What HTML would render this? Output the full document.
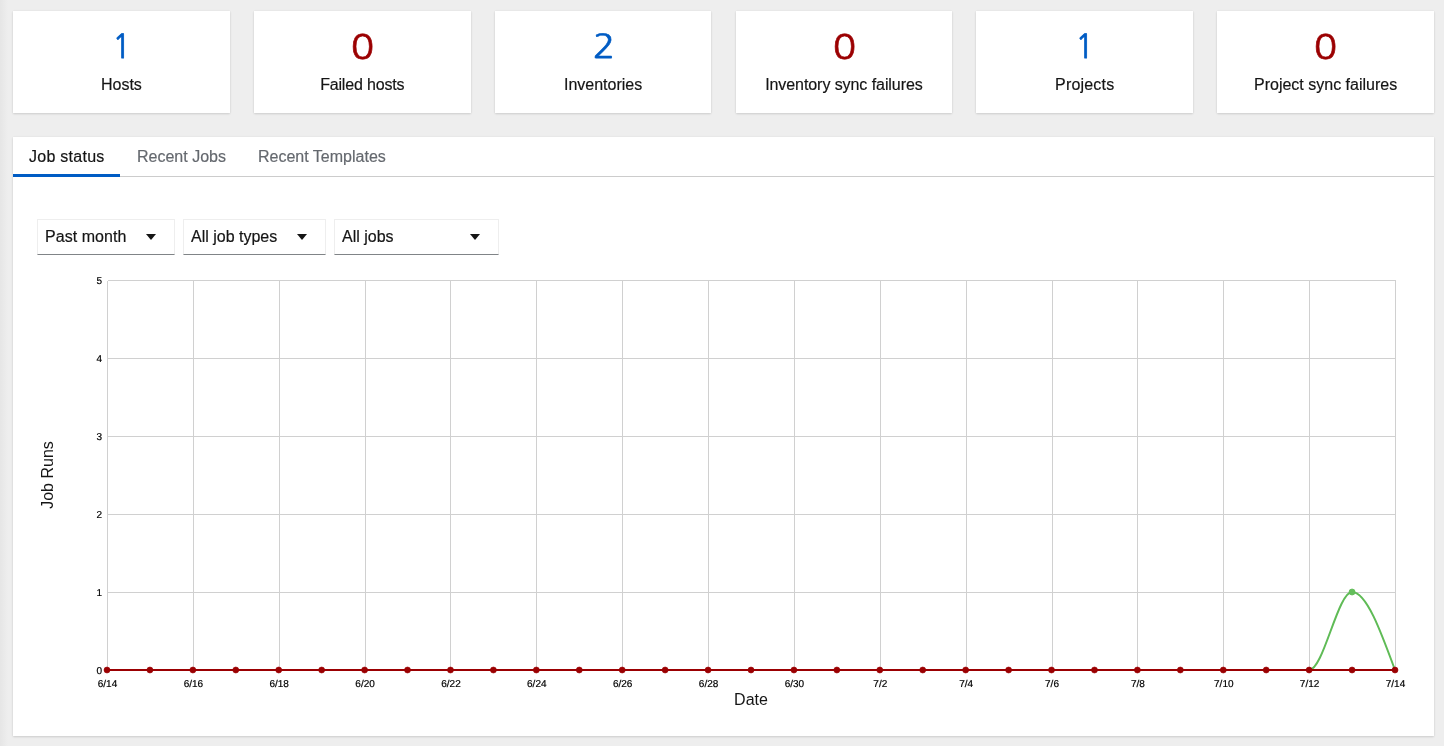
<!DOCTYPE html>
<html lang="en"><head><meta charset="utf-8"><title>Dashboard</title>
<style>
*{box-sizing:border-box;margin:0;padding:0}
html,body{width:1444px;height:746px;overflow:hidden}
body{background:#eeeeee;font-family:"Liberation Sans",sans-serif;color:#151515;position:relative;font-size:16px}
.edge{position:absolute;left:0;top:0;width:8px;height:746px;background:linear-gradient(to right,rgba(0,0,0,.035),rgba(0,0,0,0))}
.card{position:absolute;top:11px;height:102px;background:#fff;box-shadow:0 1px 2px 0 rgba(3,3,3,.12),0 0 2px 0 rgba(3,3,3,.06);text-align:center}
.card svg{position:absolute;left:0;top:0;width:100%;height:102px;overflow:visible}
.count{font-family:NanumGothic,"DejaVu Sans",sans-serif;font-size:33.7px;text-anchor:middle;text-rendering:geometricPrecision}
.b{fill:#005cc4;stroke:#005cc4}.r{fill:#9b0002;stroke:#9b0002}
.lbl,.tab,.sel{-webkit-text-stroke:.18px currentColor}
.lbl{position:absolute;left:0;right:0;top:62px;font-size:16px;line-height:24px;white-space:nowrap}
.main{position:absolute;left:13px;top:137px;width:1421px;height:599px;background:#fff;box-shadow:0 1px 2px 0 rgba(3,3,3,.12),0 0 2px 0 rgba(3,3,3,.06)}
.tabs{position:absolute;left:0;top:0;right:0;height:40px;border-bottom:1px solid #cccccc}
.tab{position:absolute;top:0;height:40px;font-size:16px;line-height:24px;padding:8px 16px;color:#64686e;white-space:nowrap}
.tab.cur{color:#151515;border-bottom:3px solid #005cc4}
.sel{position:absolute;top:82px;height:36px;border:1px solid #eeeeee;border-bottom:1px solid #808487;font-size:16px;line-height:24px;padding:5px 7px;white-space:nowrap}
.sel i{position:absolute;top:14px;width:0;height:0;border-left:5px solid transparent;border-right:5px solid transparent;border-top:6px solid #151515}
.chart{position:absolute;left:0;top:0;font-family:"Liberation Sans",sans-serif}
.tick{font-size:10px;fill:#000;stroke:#000;stroke-width:.2;text-rendering:geometricPrecision}
.axl{font-size:16px;fill:#151515;text-anchor:middle}
</style></head><body>
<div class="edge"></div>
<section class="counts">
<div class="card" style="left:13.00px;width:216.83px"><svg><text class="count b" stroke-width="0.8" transform="translate(108.72,47.30) scale(0.9,0.98)">1</text></svg><div class="lbl">Hosts</div></div>
<div class="card" style="left:253.83px;width:216.83px"><svg><text class="count r" stroke-width="0.6" transform="translate(108.42,47.80) scale(1.15,1)">0</text></svg><div class="lbl" style="letter-spacing:-.17px">Failed hosts</div></div>
<div class="card" style="left:494.67px;width:216.83px"><svg><text class="count b" stroke-width="0.6" transform="translate(108.99,47.20) scale(1.1,0.98)">2</text></svg><div class="lbl">Inventories</div></div>
<div class="card" style="left:735.50px;width:216.83px"><svg><text class="count r" stroke-width="0.6" transform="translate(108.42,47.80) scale(1.15,1)">0</text></svg><div class="lbl" style="letter-spacing:-.07px">Inventory sync failures</div></div>
<div class="card" style="left:976.33px;width:216.83px"><svg><text class="count b" stroke-width="0.8" transform="translate(108.72,47.30) scale(0.9,0.98)">1</text></svg><div class="lbl" style="letter-spacing:.18px">Projects</div></div>
<div class="card" style="left:1217.17px;width:216.83px"><svg><text class="count r" stroke-width="0.6" transform="translate(108.42,47.80) scale(1.15,1)">0</text></svg><div class="lbl">Project sync failures</div></div>
</section>
<section class="main">
<div class="tabs">
<div class="tab cur" style="left:0;width:107px;letter-spacing:.27px">Job status</div>
<div class="tab" style="left:108px">Recent Jobs</div>
<div class="tab" style="left:229px">Recent Templates</div>
</div>
<div class="sel" style="left:24px;width:138px"><span style="letter-spacing:.05px">Past month</span><i style="left:108px"></i></div>
<div class="sel" style="left:170px;width:143px">All job types<i style="left:113px"></i></div>
<div class="sel" style="left:321px;width:165px">All jobs<i style="left:134.5px"></i></div>
<svg class="chart" width="1421" height="599" viewBox="13 137 1421 599">
<g stroke="#d0d0d0" stroke-width="1" fill="none" shape-rendering="crispEdges">
<line x1="107.5" x2="1395.5" y1="670.5" y2="670.5"/>
<line x1="107.5" x2="1395.5" y1="592.5" y2="592.5"/>
<line x1="107.5" x2="1395.5" y1="514.5" y2="514.5"/>
<line x1="107.5" x2="1395.5" y1="436.5" y2="436.5"/>
<line x1="107.5" x2="1395.5" y1="358.5" y2="358.5"/>
<line x1="107.5" x2="1395.5" y1="280.5" y2="280.5"/>
<line x1="107.5" x2="107.5" y1="280.5" y2="670.5"/>
<line x1="193.5" x2="193.5" y1="280.5" y2="670.5"/>
<line x1="279.5" x2="279.5" y1="280.5" y2="670.5"/>
<line x1="365.5" x2="365.5" y1="280.5" y2="670.5"/>
<line x1="450.5" x2="450.5" y1="280.5" y2="670.5"/>
<line x1="536.5" x2="536.5" y1="280.5" y2="670.5"/>
<line x1="622.5" x2="622.5" y1="280.5" y2="670.5"/>
<line x1="708.5" x2="708.5" y1="280.5" y2="670.5"/>
<line x1="794.5" x2="794.5" y1="280.5" y2="670.5"/>
<line x1="880.5" x2="880.5" y1="280.5" y2="670.5"/>
<line x1="966.5" x2="966.5" y1="280.5" y2="670.5"/>
<line x1="1052.5" x2="1052.5" y1="280.5" y2="670.5"/>
<line x1="1137.5" x2="1137.5" y1="280.5" y2="670.5"/>
<line x1="1223.5" x2="1223.5" y1="280.5" y2="670.5"/>
<line x1="1309.5" x2="1309.5" y1="280.5" y2="670.5"/>
<line x1="1395.5" x2="1395.5" y1="280.5" y2="670.5"/>
</g>
<g class="tick" text-anchor="end">
<text x="102" y="674.4">0</text>
<text x="102" y="596.4">1</text>
<text x="102" y="518.4">2</text>
<text x="102" y="440.4">3</text>
<text x="102" y="362.4">4</text>
<text x="102" y="284.4">5</text>
</g>
<g class="tick" text-anchor="middle">
<text x="107.5" y="687.3">6/14</text>
<text x="193.4" y="687.3">6/16</text>
<text x="279.2" y="687.3">6/18</text>
<text x="365.1" y="687.3">6/20</text>
<text x="451.0" y="687.3">6/22</text>
<text x="536.8" y="687.3">6/24</text>
<text x="622.7" y="687.3">6/26</text>
<text x="708.6" y="687.3">6/28</text>
<text x="794.4" y="687.3">6/30</text>
<text x="880.3" y="687.3">7/2</text>
<text x="966.2" y="687.3">7/4</text>
<text x="1052.0" y="687.3">7/6</text>
<text x="1137.9" y="687.3">7/8</text>
<text x="1223.8" y="687.3">7/10</text>
<text x="1309.6" y="687.3">7/12</text>
<text x="1395.5" y="687.3">7/14</text>
</g>
<text class="axl" x="751" y="705">Date</text>
<text class="axl" transform="translate(53,475) rotate(-90)">Job Runs</text>
<path d="M107.00,670 L1309.13,670 C1323.44,670 1337.76,592 1352.07,592 C1366.38,592 1380.69,631.00 1395.00,670" fill="none" stroke="#5fbb56" stroke-width="2"/>
<path d="M107,670 L1395,670" fill="none" stroke="#9b0002" stroke-width="2"/>
<g fill="#64be5c" stroke="#5fbb56" stroke-width="0.8">
<circle cx="1352.07" cy="592" r="3"/>
</g>
<g fill="#9b0002" stroke="#9b0002" stroke-width="0.6">
<circle cx="107.00" cy="670" r="3"/>
<circle cx="149.93" cy="670" r="3"/>
<circle cx="192.87" cy="670" r="3"/>
<circle cx="235.80" cy="670" r="3"/>
<circle cx="278.73" cy="670" r="3"/>
<circle cx="321.67" cy="670" r="3"/>
<circle cx="364.60" cy="670" r="3"/>
<circle cx="407.53" cy="670" r="3"/>
<circle cx="450.47" cy="670" r="3"/>
<circle cx="493.40" cy="670" r="3"/>
<circle cx="536.33" cy="670" r="3"/>
<circle cx="579.27" cy="670" r="3"/>
<circle cx="622.20" cy="670" r="3"/>
<circle cx="665.13" cy="670" r="3"/>
<circle cx="708.07" cy="670" r="3"/>
<circle cx="751.00" cy="670" r="3"/>
<circle cx="793.93" cy="670" r="3"/>
<circle cx="836.87" cy="670" r="3"/>
<circle cx="879.80" cy="670" r="3"/>
<circle cx="922.73" cy="670" r="3"/>
<circle cx="965.67" cy="670" r="3"/>
<circle cx="1008.60" cy="670" r="3"/>
<circle cx="1051.53" cy="670" r="3"/>
<circle cx="1094.47" cy="670" r="3"/>
<circle cx="1137.40" cy="670" r="3"/>
<circle cx="1180.33" cy="670" r="3"/>
<circle cx="1223.27" cy="670" r="3"/>
<circle cx="1266.20" cy="670" r="3"/>
<circle cx="1309.13" cy="670" r="3"/>
<circle cx="1352.07" cy="670" r="3"/>
<circle cx="1395.00" cy="670" r="3"/>
</g>
</svg>
</section>
</body></html>
